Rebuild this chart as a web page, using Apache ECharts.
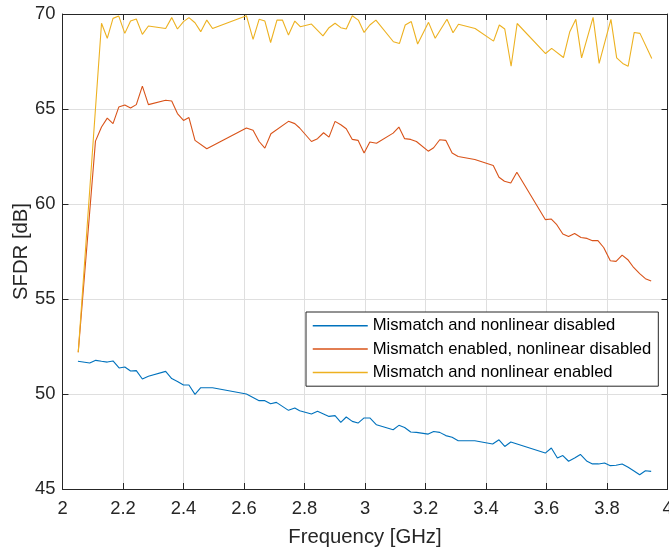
<!DOCTYPE html>
<html>
<head>
<meta charset="utf-8">
<script src="https://cdn.jsdelivr.net/npm/echarts@6/dist/echarts.min.js"></script>
<style>
html,body{margin:0;padding:0;background:#fff;}
#c{width:669px;height:548px;}
</style>
</head>
<body>
<div id="c"></div>
<script>
const seriesNames = ['Mismatch and nonlinear disabled', 'Mismatch enabled, nonlinear disabled', 'Mismatch and nonlinear enabled'];

const freqBlu = [2.051, 2.09, 2.11, 2.129, 2.148, 2.167, 2.187, 2.206, 2.225, 2.244, 2.264, 2.284, 2.341, 2.361, 2.38, 2.4, 2.418, 2.438, 2.457, 2.496, 2.608, 2.65, 2.669, 2.688, 2.707, 2.727, 2.747, 2.768, 2.784, 2.823, 2.843, 2.881, 2.901, 2.92, 2.938, 2.958, 2.977, 2.997, 3.016, 3.038, 3.093, 3.112, 3.131, 3.151, 3.17, 3.209, 3.227, 3.247, 3.267, 3.288, 3.308, 3.363, 3.422, 3.443, 3.462, 3.482, 3.596, 3.616, 3.636, 3.654, 3.673, 3.693, 3.712, 3.734, 3.752, 3.772, 3.792, 3.811, 3.83, 3.85, 3.87, 3.888, 3.908, 3.927, 3.946];
const sfdrBlu = [51.72, 51.63, 51.77, 51.72, 51.68, 51.74, 51.37, 51.42, 51.21, 51.23, 50.79, 50.93, 51.19, 50.81, 50.66, 50.47, 50.47, 49.98, 50.33, 50.33, 50.0, 49.65, 49.65, 49.49, 49.56, 49.35, 49.14, 49.26, 49.12, 48.95, 49.09, 48.82, 48.86, 48.51, 48.79, 48.56, 48.47, 48.74, 48.74, 48.38, 48.12, 48.35, 48.24, 48.0, 47.98, 47.89, 48.03, 47.98, 47.81, 47.72, 47.54, 47.54, 47.37, 47.59, 47.24, 47.47, 46.89, 47.16, 46.63, 46.76, 46.46, 46.63, 46.82, 46.46, 46.32, 46.32, 46.37, 46.23, 46.25, 46.32, 46.14, 45.96, 45.75, 45.96, 45.93];

const freqRed = [2.052, 2.109, 2.129, 2.148, 2.167, 2.186, 2.206, 2.225, 2.244, 2.264, 2.284, 2.341, 2.361, 2.38, 2.4, 2.418, 2.438, 2.477, 2.608, 2.63, 2.65, 2.669, 2.689, 2.747, 2.768, 2.784, 2.823, 2.843, 2.863, 2.881, 2.901, 2.92, 2.938, 2.958, 2.977, 2.997, 3.016, 3.038, 3.093, 3.112, 3.131, 3.151, 3.17, 3.209, 3.227, 3.247, 3.267, 3.288, 3.308, 3.363, 3.424, 3.443, 3.461, 3.482, 3.502, 3.596, 3.616, 3.634, 3.654, 3.673, 3.693, 3.714, 3.734, 3.752, 3.77, 3.789, 3.811, 3.83, 3.85, 3.87, 3.888, 3.908, 3.927, 3.946];
const sfdrRed = [52.2, 63.31, 64.05, 64.52, 64.23, 65.1, 65.21, 65.05, 65.23, 66.2, 65.23, 65.46, 65.42, 64.76, 64.4, 64.55, 63.35, 62.91, 64.0, 63.88, 63.29, 62.94, 63.7, 64.35, 64.23, 64.0, 63.29, 63.44, 63.75, 63.52, 64.35, 64.17, 63.96, 63.4, 63.35, 62.68, 63.26, 63.2, 63.73, 64.05, 63.44, 63.4, 63.29, 62.78, 62.96, 63.38, 63.35, 62.68, 62.5, 62.34, 62.03, 61.41, 61.2, 61.11, 61.67, 59.18, 59.21, 58.91, 58.42, 58.29, 58.45, 58.24, 58.19, 58.07, 58.07, 57.71, 57.01, 56.98, 57.31, 57.05, 56.66, 56.34, 56.07, 55.95];

const freqYel = [2.052, 2.129, 2.148, 2.167, 2.186, 2.206, 2.225, 2.244, 2.264, 2.284, 2.341, 2.361, 2.38, 2.4, 2.418, 2.438, 2.457, 2.477, 2.496, 2.608, 2.63, 2.65, 2.669, 2.688, 2.709, 2.727, 2.747, 2.768, 2.786, 2.823, 2.861, 2.881, 2.901, 2.92, 2.938, 2.958, 2.978, 2.997, 3.016, 3.036, 3.094, 3.114, 3.133, 3.153, 3.174, 3.21, 3.232, 3.271, 3.291, 3.309, 3.364, 3.425, 3.444, 3.462, 3.483, 3.503, 3.597, 3.617, 3.656, 3.677, 3.697, 3.716, 3.754, 3.774, 3.813, 3.832, 3.852, 3.87, 3.89, 3.909, 3.948];
const sfdrYel = [52.2, 69.51, 68.72, 69.77, 69.89, 68.98, 69.63, 69.74, 68.93, 69.37, 69.24, 69.81, 69.21, 69.6, 69.81, 69.54, 69.07, 69.68, 69.24, 69.91, 68.66, 69.72, 69.63, 68.5, 69.68, 69.68, 68.89, 69.63, 69.33, 69.47, 68.85, 69.28, 69.51, 69.28, 69.21, 69.91, 69.68, 69.03, 69.42, 69.68, 68.54, 68.45, 69.42, 69.6, 68.42, 69.56, 68.72, 69.72, 69.01, 69.46, 69.24, 68.57, 69.42, 69.21, 67.25, 69.5, 67.92, 68.19, 67.71, 69.07, 69.72, 67.69, 69.82, 67.4, 69.72, 67.69, 67.4, 67.25, 69.03, 68.98, 67.66];

const xTicks = [2, 2.2, 2.4, 2.6, 2.8, 3, 3.2, 3.4, 3.6, 3.8, 4];
const yTicks = [45, 50, 55, 60, 65, 70];

const colors = ['#0072BD', '#D95319', '#EDB120'];
const FONT = '"Liberation Sans", Arial, Helvetica, sans-serif';
const AX = '#262626';

function pairs(xs, ys) { return xs.map((x, i) => [x, ys[i]]); }

const chart = echarts.init(document.getElementById('c'), null, {renderer: 'canvas'});

const baseX = {
  type: 'value', min: xTicks[0], max: xTicks[xTicks.length - 1], interval: 0.2,
  axisLine: {show: true, onZero: false, lineStyle: {color: AX, width: 1}},
  axisTick: {show: true, inside: true, length: 6, lineStyle: {color: AX}},
  splitLine: {show: false}
};
const baseY = {
  type: 'value', min: yTicks[0], max: yTicks[yTicks.length - 1], interval: 5,
  axisLine: {show: true, onZero: false, lineStyle: {color: AX, width: 1}},
  axisTick: {show: true, inside: true, length: 6, lineStyle: {color: AX}},
  splitLine: {show: false}
};

chart.setOption({
  animation: false,
  backgroundColor: '#fff',
  grid: {left: 62.5, right: 1.5, top: 14, bottom: 59, containLabel: false, outerBoundsMode: 'none'},
  legend: {
    show: true,
    data: seriesNames,
    orient: 'vertical',
    left: 306, top: 312,
    padding: [4.8, 7, 4.8, 6],
    itemGap: 5.3,
    itemWidth: 55, itemHeight: 18,
    backgroundColor: '#fff',
    borderColor: AX, borderWidth: 1, borderRadius: 0,
    lineStyle: {width: 1.5},
    itemStyle: {opacity: 0},
    textStyle: {fontFamily: FONT, fontSize: 16.6, lineHeight: 18, color: '#000'}
  },
  xAxis: [
    Object.assign({}, baseX, {
      position: 'bottom',
      name: 'Frequency [GHz]', nameLocation: 'middle', nameGap: 38,
      nameTextStyle: {fontFamily: FONT, fontSize: 20.3, color: AX},
      axisLabel: {show: true, margin: 11, fontFamily: FONT, fontSize: 18.4, color: AX,
        formatter: v => String(+v.toFixed(1))},
      splitLine: {show: true, lineStyle: {color: '#dfdfdf', width: 1}}
    }),
    Object.assign({}, baseX, {position: 'top', axisLabel: {show: false}})
  ],
  yAxis: [
    Object.assign({}, baseY, {
      position: 'left',
      name: 'SFDR [dB]', nameLocation: 'middle', nameGap: 31, nameMoveOverlap: false,
      nameTextStyle: {fontFamily: FONT, fontSize: 20.3, color: AX},
      axisLabel: {show: true, margin: 7, fontFamily: FONT, fontSize: 18.4, color: AX},
      splitLine: {show: true, lineStyle: {color: '#dfdfdf', width: 1}}
    }),
    Object.assign({}, baseY, {position: 'right', axisLabel: {show: false}})
  ],
  series: [
    {name: seriesNames[0], type: 'line', data: pairs(freqBlu, sfdrBlu)},
    {name: seriesNames[1], type: 'line', data: pairs(freqRed, sfdrRed)},
    {name: seriesNames[2], type: 'line', data: pairs(freqYel, sfdrYel)}
  ].map((s, i) => Object.assign(s, {
    xAxisIndex: 0, yAxisIndex: 0,
    symbol: 'none', showSymbol: false,
    lineStyle: {color: colors[i], width: 1.1},
    itemStyle: {color: colors[i]},
    clip: true
  }))
});
</script>
</body>
</html>
